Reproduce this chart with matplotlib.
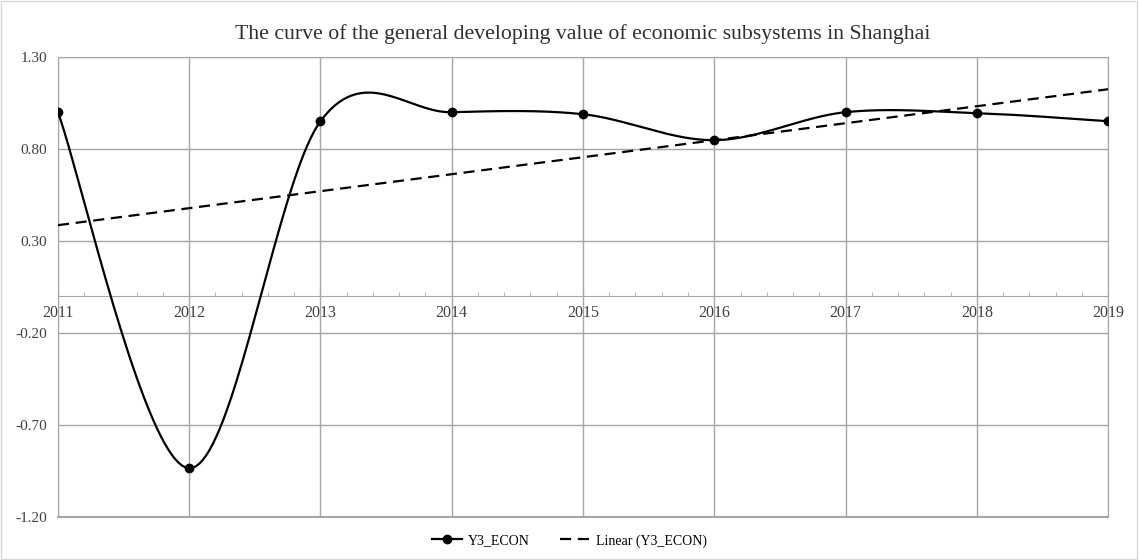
import matplotlib
matplotlib.use("Agg")
import matplotlib.pyplot as plt
from matplotlib.ticker import MultipleLocator
import numpy as np

plt.rcParams['font.family'] = ['Liberation Serif', 'DejaVu Serif']

years = [2011, 2012, 2013, 2014, 2015, 2016, 2017, 2018, 2019]
y3_econ = [1.00, -0.935, 0.951, 1.00, 0.989, 0.848, 1.00, 0.995, 0.951]
y_ticks = [-1.20, -0.70, -0.20, 0.30, 0.80, 1.30]


def smooth(xs, ys, n=40):
    # Excel-style smoothed line (Catmull-Rom as cubic Bezier)
    xs = np.asarray(xs, float)
    ys = np.asarray(ys, float)
    px = np.concatenate([[xs[0]], xs, [xs[-1]]])
    py = np.concatenate([[ys[0]], ys, [ys[-1]]])
    out_x, out_y = [], []
    t = np.linspace(0, 1, n)
    for i in range(1, len(px) - 2):
        p0 = np.array([px[i], py[i]])
        p3 = np.array([px[i + 1], py[i + 1]])
        c1 = p0 + (np.array([px[i + 1], py[i + 1]]) - np.array([px[i - 1], py[i - 1]])) / 6
        c2 = p3 - (np.array([px[i + 2], py[i + 2]]) - np.array([px[i], py[i]])) / 6
        b = ((1 - t) ** 3)[:, None] * p0 + (3 * (1 - t) ** 2 * t)[:, None] * c1 \
            + (3 * (1 - t) * t ** 2)[:, None] * c2 + (t ** 3)[:, None] * p3
        out_x.extend(b[:, 0])
        out_y.extend(b[:, 1])
    return out_x, out_y


fig = plt.figure(figsize=(11.39, 5.6), dpi=100)
ax = fig.add_axes([0.0509, 0.0768, 0.9219, 0.8214])

grid_c = '#a6a6a6'
sx, sy = smooth(years, y3_econ)
ax.plot(sx, sy, color='black', lw=1.6, zorder=3)
ax.plot(years, y3_econ, 'o', color='black', ms=6, zorder=4)
ax.plot([], [], '-o', color='black', lw=1.6, ms=6, label='Y3_ECON')

coef = np.polyfit(years, y3_econ, 1)
ax.plot(years, np.polyval(coef, years), color='black', lw=1.6,
        dashes=(5, 3), label='Linear (Y3_ECON)', zorder=3)

ax.set_xlim(2011, 2019)
ax.set_ylim(-1.2, 1.3)
ax.set_yticks(y_ticks)
ax.set_yticklabels(['%.2f' % v for v in y_ticks])
ax.set_xticks(years)
ax.xaxis.set_minor_locator(MultipleLocator(0.2))
ax.grid(True, color=grid_c, lw=1.0)
ax.axhline(-1.2, color=grid_c, lw=1.5, clip_on=False)

for s in ['left', 'right', 'top']:
    ax.spines[s].set_color(grid_c)
ax.spines['bottom'].set_position(('data', 0))
ax.spines['bottom'].set_color(grid_c)

ax.tick_params(axis='y', length=0, labelsize=11, labelcolor='#404040', pad=8)
ax.tick_params(axis='x', which='major', direction='in', length=4, color=grid_c,
               labelsize=11.5, labelcolor='#404040', pad=6)
ax.tick_params(axis='x', which='minor', direction='in', length=3, color=grid_c)

ax.set_title('The curve of the general developing value of economic subsystems in Shanghai',
             fontsize=15.7, color='#303030', pad=13)

fig.legend(loc='lower center', bbox_to_anchor=(0.5, 0.0), ncol=2, frameon=False,
           fontsize=10, handlelength=2.2, handletextpad=0.4, columnspacing=2.2)

fig.add_artist(plt.Rectangle((0.001, 0.001), 0.997, 0.997, transform=fig.transFigure,
                             fill=False, edgecolor='#d9d9d9', lw=1))

fig.savefig('out.png', dpi=100)
